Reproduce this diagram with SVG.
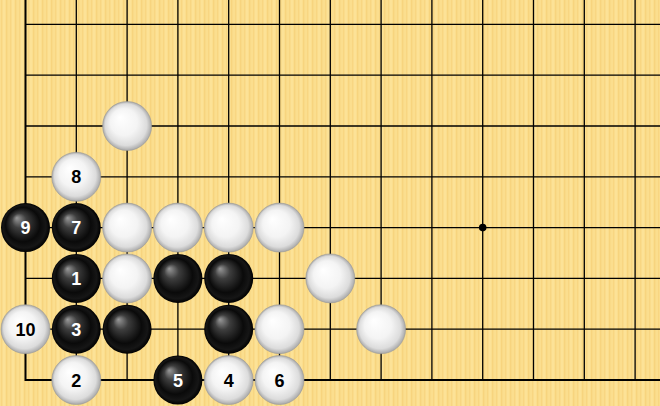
<svg xmlns="http://www.w3.org/2000/svg" width="660" height="406" viewBox="0 0 660 406">
<defs>
<pattern id="wood" x="0" y="0" width="9" height="406" patternUnits="userSpaceOnUse">
<rect width="9" height="406" fill="#FBDE8E"/>
<rect x="1" width="1.2" height="406" fill="#F8D682"/>
<rect x="3.5" width="1" height="406" fill="#FDE6A0"/>
<rect x="6" width="1.4" height="406" fill="#F7D47E"/>
</pattern>
<radialGradient id="gb" cx="0.5" cy="0.5" r="0.5" fx="0.32" fy="0.3">
<stop offset="0" stop-color="#999"/>
<stop offset="0.3" stop-color="#3e3e3e"/>
<stop offset="0.7" stop-color="#0a0a0a"/>
<stop offset="0.88" stop-color="#161616"/>
<stop offset="1" stop-color="#000"/>
</radialGradient>
<radialGradient id="gw" cx="0.5" cy="0.5" r="0.5" fx="0.35" fy="0.32">
<stop offset="0" stop-color="#ffffff"/>
<stop offset="0.55" stop-color="#f4f4f4"/>
<stop offset="0.85" stop-color="#dcdcdc"/>
<stop offset="1" stop-color="#a8a8a8"/>
</radialGradient>
<style>
.g{stroke:#000;stroke-width:1.3;fill:none}
.e{stroke:#000;stroke-width:2;fill:none}
.b{fill:url(#gb)}
.w{fill:url(#gw);stroke:#9a9a9a;stroke-width:0.6}
.tb{font-family:"Liberation Sans",Arial,sans-serif;font-weight:bold;font-size:18px;fill:#fff;text-anchor:middle}
.tw{font-family:"Liberation Sans",Arial,sans-serif;font-weight:bold;font-size:18px;fill:#000;text-anchor:middle}
</style>
</defs>
<rect width="660" height="406" fill="url(#wood)"/>
<g id="grid">
<path class="g" d="M76.3 0V380M127.1 0V380M177.9 0V380M228.7 0V380M279.5 0V380M330.3 0V380M381.1 0V380M431.9 0V380M482.7 0V380M533.5 0V380M584.3 0V380M635.1 0V380"/>
<path class="g" d="M25.5 24.4H660M25.5 75.2H660M25.5 126H660M25.5 176.8H660M25.5 227.6H660M25.5 278.4H660M25.5 329.2H660"/>
<path class="e" d="M25.5 0V380H660"/>
<circle cx="482.7" cy="227.6" r="3.8" fill="#000"/>
</g>
<g id="stones">
<circle class="w" cx="127.1" cy="126" r="24.5"/>
<g id="m8"><circle class="w" cx="76.3" cy="176.8" r="24.5"/><text class="tw" x="76.3" y="183.3">8</text></g>
<g id="m9"><circle class="b" cx="25.5" cy="227.6" r="24.5"/><text class="tb" x="25.5" y="234.1">9</text></g>
<g id="m7"><circle class="b" cx="76.3" cy="227.6" r="24.5"/><text class="tb" x="76.3" y="234.1">7</text></g>
<circle class="w" cx="127.1" cy="227.6" r="24.5"/>
<circle class="w" cx="177.9" cy="227.6" r="24.5"/>
<circle class="w" cx="228.7" cy="227.6" r="24.5"/>
<circle class="w" cx="279.5" cy="227.6" r="24.5"/>
<g id="m1"><circle class="b" cx="76.3" cy="278.4" r="24.5"/><text class="tb" x="76.3" y="284.9">1</text></g>
<circle class="w" cx="127.1" cy="278.4" r="24.5"/>
<circle class="b" cx="177.9" cy="278.4" r="24.5"/>
<circle class="b" cx="228.7" cy="278.4" r="24.5"/>
<circle class="w" cx="330.3" cy="278.4" r="24.5"/>
<g id="m10"><circle class="w" cx="25.5" cy="329.2" r="24.5"/><text class="tw" x="25.5" y="335.7">10</text></g>
<g id="m3"><circle class="b" cx="76.3" cy="329.2" r="24.5"/><text class="tb" x="76.3" y="335.7">3</text></g>
<circle class="b" cx="127.1" cy="329.2" r="24.5"/>
<circle class="b" cx="228.7" cy="329.2" r="24.5"/>
<circle class="w" cx="279.5" cy="329.2" r="24.5"/>
<circle class="w" cx="381.1" cy="329.2" r="24.5"/>
<g id="m2"><circle class="w" cx="76.3" cy="380" r="24.5"/><text class="tw" x="76.3" y="386.5">2</text></g>
<g id="m5"><circle class="b" cx="177.9" cy="380" r="24.5"/><text class="tb" x="177.9" y="386.5">5</text></g>
<g id="m4"><circle class="w" cx="228.7" cy="380" r="24.5"/><text class="tw" x="228.7" y="386.5">4</text></g>
<g id="m6"><circle class="w" cx="279.5" cy="380" r="24.5"/><text class="tw" x="279.5" y="386.5">6</text></g>
</g>
</svg>
